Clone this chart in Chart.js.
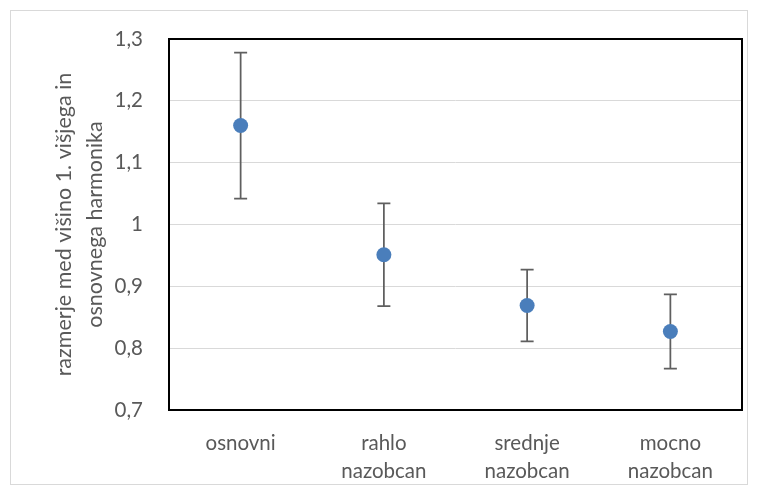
<!DOCTYPE html>
<html>
<head>
<meta charset="utf-8">
<script src="https://cdn.jsdelivr.net/npm/chart.js@4"></script>
<style>
  html, body { margin: 0; padding: 0; background: #fff; }
  #wrap { width: 758px; height: 495px; position: relative; }
</style>
</head>
<body>
<div id="wrap"><canvas id="graf" width="758" height="495"></canvas></div>
<script>
// podatki
const kategorije = [['osnovni'], ['rahlo', 'nazobcan'], ['srednje', 'nazobcan'], ['mocno', 'nazobcan']];
const povprecja = [1.16, 0.951, 0.869, 0.827];
const napake = [0.118, 0.083, 0.058, 0.06];
const yTicks = [0.7, 0.8, 0.9, 1.0, 1.1, 1.2, 1.3];

const pisava = 'Lato, "Open Sans", sans-serif';
const sivaBesedilo = '#595959';

// okvir okoli celotnega grafa + okvir risalne povrsine
const okvir = {
  id: 'okvir',
  beforeDraw(chart) {
    const ctx = chart.ctx;
    ctx.save();
    ctx.strokeStyle = '#d9d9d9';
    ctx.lineWidth = 1;
    ctx.strokeRect(10.5, 10.5, 737, 474);
    ctx.restore();
  },
  beforeDatasetsDraw(chart) {
    const { ctx, chartArea: a } = chart;
    ctx.save();
    ctx.strokeStyle = '#000';
    ctx.lineWidth = 2;
    ctx.strokeRect(a.left, a.top, a.right - a.left, a.bottom - a.top);
    ctx.restore();
  }
};

// stolpci napak (+/- napaka) okoli povprecij
const napakeVrstice = {
  id: 'napakeVrstice',
  beforeDatasetsDraw(chart) {
    const { ctx, scales: { x, y } } = chart;
    ctx.save();
    ctx.strokeStyle = '#5f5f5f';
    ctx.lineWidth = 1.75;
    povprecja.forEach((v, i) => {
      const px = x.getPixelForValue(i);
      const yTop = y.getPixelForValue(v + napake[i]);
      const yBot = y.getPixelForValue(v - napake[i]);
      ctx.beginPath();
      ctx.moveTo(px, yTop);
      ctx.lineTo(px, yBot);
      ctx.moveTo(px - 6.5, yTop);
      ctx.lineTo(px + 6.5, yTop);
      ctx.moveTo(px - 6.5, yBot);
      ctx.lineTo(px + 6.5, yBot);
      ctx.stroke();
    });
    ctx.restore();
  }
};

new Chart(document.getElementById('graf'), {
  type: 'line',
  data: {
    labels: kategorije,
    datasets: [{
      data: povprecja,
      showLine: false,
      pointRadius: 7.5,
      pointHoverRadius: 7.5,
      pointBackgroundColor: '#4a7ebb',
      pointBorderColor: '#4a7ebb',
      pointBorderWidth: 0
    }]
  },
  options: {
    responsive: false,
    animation: false,
    events: [],
    layout: { padding: { top: 39, right: 16, bottom: 0, left: 0 } },
    plugins: { legend: { display: false }, tooltip: { enabled: false } },
    scales: {
      x: {
        type: 'category',
        offset: true,
        grid: { display: false, drawTicks: false },
        border: { display: false },
        ticks: {
          color: sivaBesedilo,
          padding: 19,
          maxRotation: 0,
          autoSkip: false,
          font: { family: pisava, size: 20.5, lineHeight: '28px' }
        },
        afterFit(s) { s.height = 85; }
      },
      y: {
        min: 0.7,
        max: 1.3,
        afterBuildTicks(s) { s.ticks = yTicks.map(v => ({ value: v })); },
        grid: { color: '#d9d9d9', lineWidth: 1, drawTicks: false },
        border: { display: false },
        ticks: {
          color: sivaBesedilo,
          padding: 26,
          font: { family: pisava, size: 20.5 },
          callback: v => String(Math.round(v * 10) / 10).replace('.', ',')
        },
        title: {
          display: true,
          text: ['razmerje med višino 1. višjega in', 'osnovnega harmonika'],
          color: sivaBesedilo,
          padding: { top: 49, bottom: 0 },
          font: { family: pisava, size: 21.5, lineHeight: '31px' }
        },
        afterFit(s) { s.width = 169; }
      }
    }
  },
  plugins: [okvir, napakeVrstice]
});
</script>
</body>
</html>
